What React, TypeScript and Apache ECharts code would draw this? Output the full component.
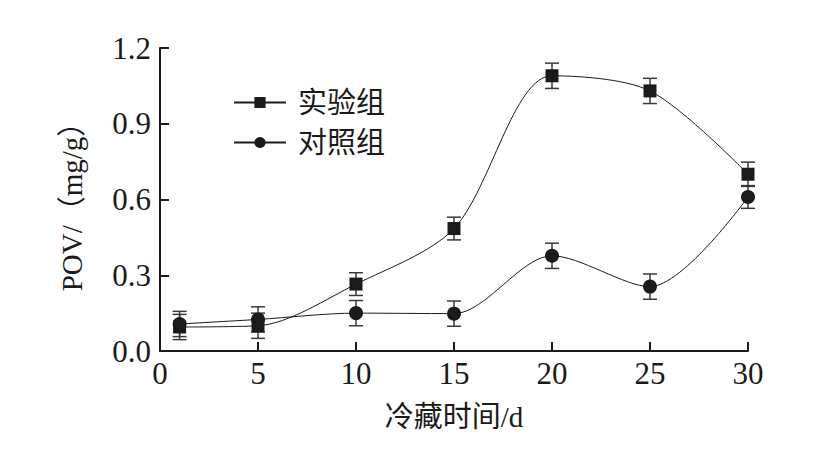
import React, { useEffect, useRef } from "react";
import * as echarts from "echarts";

const days = [1, 5, 10, 15, 20, 25, 30];
const expValues = [0.095, 0.1, 0.265, 0.485, 1.09, 1.03, 0.7];
const expErrors = [0.05, 0.05, 0.045, 0.045, 0.05, 0.05, 0.048];
const ctrlValues = [0.107, 0.125, 0.15, 0.148, 0.377, 0.255, 0.61];
const ctrlErrors = [0.05, 0.05, 0.05, 0.05, 0.05, 0.05, 0.045];
const seriesNames = ["实验组", "对照组"];

const FONT = "'Liberation Serif', 'Times New Roman', 'Noto Sans CJK SC', serif";
const INK = "#1a1a1a";

function errorData(vals: number[], errs: number[]) {
  return days.map((d, i) => [d, vals[i] - errs[i], vals[i] + errs[i]]);
}

function renderErr(params: any, api: any) {
  const x = api.value(0);
  const lo = api.coord([x, api.value(1)]);
  const hi = api.coord([x, api.value(2)]);
  const hw = 7;
  const style = { stroke: "#3a3a3a", lineWidth: 1.5 };
  return {
    type: "group",
    children: [
      { type: "line", shape: { x1: lo[0], y1: lo[1], x2: hi[0], y2: hi[1] }, style },
      { type: "line", shape: { x1: lo[0] - hw, y1: lo[1], x2: lo[0] + hw, y2: lo[1] }, style },
      { type: "line", shape: { x1: hi[0] - hw, y1: hi[1], x2: hi[0] + hw, y2: hi[1] }, style },
    ],
  };
}

export default function App() {
  const ref = useRef<HTMLDivElement>(null);
  useEffect(() => {
    if (!ref.current) return;
    const chart = echarts.init(ref.current, undefined, { renderer: "svg" });
    chart.setOption({
      animation: false,
      backgroundColor: "#ffffff",
      grid: { left: 160, right: 89, top: 48, bottom: 110 },
      legend: {
        orient: "vertical",
        left: 233,
        top: 88,
        padding: 0,
        itemWidth: 52,
        itemHeight: 14,
        itemGap: 11,
        data: seriesNames,
        textStyle: { fontFamily: FONT, fontSize: 29, color: INK, padding: [0, 0, 0, 7] },
      },
      xAxis: {
        type: "value",
        min: 0,
        max: 30,
        interval: 5,
        name: "冷藏时间/d",
        nameLocation: "middle",
        nameGap: 51,
        nameTextStyle: { fontFamily: FONT, fontSize: 29, color: INK },
        axisLine: { lineStyle: { color: INK, width: 2 } },
        axisTick: { inside: true, length: 9, lineStyle: { color: INK, width: 2 } },
        axisLabel: { fontFamily: FONT, fontSize: 31, color: INK, margin: 7 },
        splitLine: { show: false },
      },
      yAxis: {
        type: "value",
        min: 0,
        max: 1.2,
        interval: 0.3,
        name: "POV/（mg/g）",
        nameLocation: "middle",
        nameGap: 74,
        nameTextStyle: { fontFamily: FONT, fontSize: 29, color: INK },
        axisLine: { show: true, lineStyle: { color: INK, width: 2 } },
        axisTick: { show: true, inside: true, length: 9, lineStyle: { color: INK, width: 2 } },
        axisLabel: {
          fontFamily: FONT,
          fontSize: 31,
          color: INK,
          margin: 9,
          formatter: (v: number) => v.toFixed(1),
        },
        splitLine: { show: false },
      },
      series: [
        {
          name: "err1",
          type: "custom",
          renderItem: renderErr,
          data: errorData(expValues, expErrors),
          z: 1,
          silent: true,
        },
        {
          name: "err2",
          type: "custom",
          renderItem: renderErr,
          data: errorData(ctrlValues, ctrlErrors),
          z: 1,
          silent: true,
        },
        {
          name: seriesNames[0],
          type: "line",
          smooth: 0.3,
          data: days.map((d, i) => [d, expValues[i]]),
          symbol: "rect",
          symbolSize: 13,
          itemStyle: { color: INK },
          lineStyle: { color: INK, width: 1 },
          z: 3,
        },
        {
          name: seriesNames[1],
          type: "line",
          smooth: 0.3,
          data: days.map((d, i) => [d, ctrlValues[i]]),
          symbol: "circle",
          symbolSize: 14,
          itemStyle: { color: INK },
          lineStyle: { color: INK, width: 1 },
          z: 3,
        },
      ],
    });
    return () => chart.dispose();
  }, []);
  return (
    <div
      ref={ref}
      style={{ position: "fixed", left: 0, top: 0, width: 837, height: 461 }}
    />
  );
}
